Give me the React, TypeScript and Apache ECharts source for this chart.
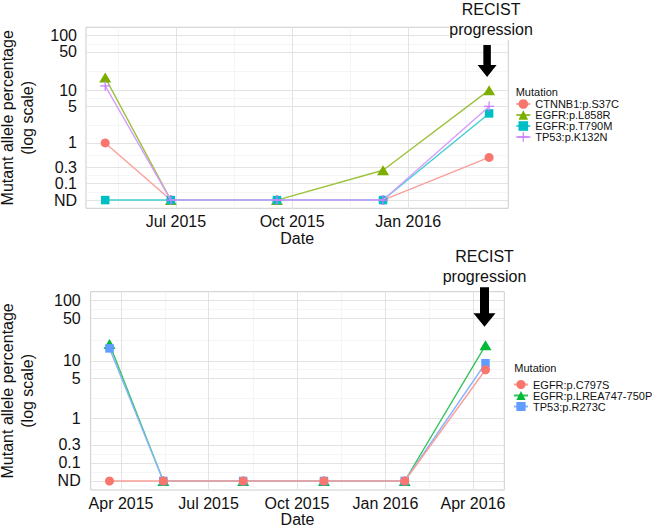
import { useEffect, useRef } from "react";
import * as echarts from "echarts";

const FONT = "'Liberation Sans', Arial, Helvetica, sans-serif";
const INK = "#111111";

// y axis: log10(value + 0.1), ND = not detected (0)
const yBreaks = [100, 50, 10, 5, 1, 0.3, 0.1, 0];
const yBreakLabels = ["100", "50", "10", "5", "1", "0.3", "0.1", "ND"];
const quarterStarts = [
  "2015-01-01", "2015-04-01", "2015-07-01", "2015-10-01",
  "2016-01-01", "2016-04-01", "2016-07-01",
];
const monthNames = ["Jan", "Feb", "Mar", "Apr", "May", "Jun", "Jul", "Aug", "Sep", "Oct", "Nov", "Dec"];

// top panel
const topDates = ["2015-05-06", "2015-06-27", "2015-09-19", "2015-12-12", "2016-03-05"];
const topMutations = ["CTNNB1:p.S37C", "EGFR:p.L858R", "EGFR:p.T790M", "TP53:p.K132N"];
const ctnnb1S37C = [1, 0, 0, 0, 0.5];
const egfrL858R = [17, 0, 0, 0.25, 10];
const egfrT790M = [0, 0, 0, 0, 3.7];
const tp53K132N = [12, 0, 0, 0, 5];

// bottom panel
const bottomDates = ["2015-03-20", "2015-05-15", "2015-08-06", "2015-10-29", "2016-01-21", "2016-04-14"];
const bottomMutations = ["EGFR:p.C797S", "EGFR:p.LREA747-750P", "TP53:p.R273C"];
const egfrC797S = [0, 0, 0, 0, 0, 7];
const egfrLREA747 = [19, 0, 0, 0, 0, 18];
const tp53R273C = [16, 0, 0, 0, 0, 9];

const PLUS = "path://M0,4.4H10V5.6H0ZM4.4,0H5.6V10H4.4Z";

const tr = (v: number) => Math.log10(v + 0.1);
const ts = (d: string) => Date.parse(d);

function dateRange(dates: string[]) {
  const t = dates.map(ts);
  const lo = Math.min(...t);
  const hi = Math.max(...t);
  const pad = (hi - lo) * 0.05;
  return [lo - pad, hi + pad];
}

function gridLines(gi: number, xr: number[]) {
  const major = "#E3E3E3";
  const minor = "#F3F3F3";
  const yMaj = yBreaks.map(tr);
  const yMin: number[] = [];
  for (let i = 0; i < yMaj.length - 1; i++) yMin.push((yMaj[i] + yMaj[i + 1]) / 2);
  const q = quarterStarts.map(ts);
  const xMin: number[] = [];
  for (let i = 0; i < q.length - 1; i++) xMin.push((q[i] + q[i + 1]) / 2);
  const inX = (v: number) => v > xr[0] && v < xr[1];
  const data: any[] = [
    ...yMin.map((v) => ({ yAxis: v, lineStyle: { color: minor, width: 0.8, type: "solid" } })),
    ...xMin.filter(inX).map((v) => ({ xAxis: v, lineStyle: { color: minor, width: 0.8, type: "solid" } })),
    ...yMaj.map((v) => ({ yAxis: v, lineStyle: { color: major, width: 1, type: "solid" } })),
    ...q.filter(inX).map((v) => ({ xAxis: v, lineStyle: { color: major, width: 1, type: "solid" } })),
  ];
  return {
    type: "line",
    name: "grid" + gi,
    xAxisIndex: gi,
    yAxisIndex: gi,
    data: [],
    silent: true,
    z: 1,
    markLine: {
      silent: true,
      z: 1,
      symbol: ["none", "none"],
      label: { show: false },
      animation: false,
      data,
    },
  };
}

function lineSeries(
  gi: number,
  name: string,
  dates: string[],
  values: number[],
  color: string,
  lineColor: string,
  symbol: string,
  size: number | number[],
  z: number,
) {
  return {
    type: "line",
    name,
    xAxisIndex: gi,
    yAxisIndex: gi,
    data: dates.map((d, i) => [ts(d), tr(values[i])]),
    symbol,
    symbolSize: size,
    showAllSymbol: true,
    itemStyle: { color, opacity: 1 },
    lineStyle: { color: lineColor, width: 1.4 },
    emphasis: { disabled: true },
    z,
  };
}

function xAxis(gi: number, xr: number[], gap: number) {
  return {
    gridIndex: gi,
    type: "value",
    min: xr[0],
    max: xr[1],
    axisLine: { show: false },
    axisTick: { show: false },
    splitLine: { show: false },
    axisLabel: {
      customValues: quarterStarts.map(ts),
      formatter: (v: number) => {
        const d = new Date(v);
        return monthNames[d.getUTCMonth()] + " " + d.getUTCFullYear();
      },
      hideOverlap: false,
      fontSize: 16,
      fontFamily: FONT,
      color: INK,
      margin: 5,
    },
    name: "Date",
    nameLocation: "middle",
    nameGap: gap,
    nameTextStyle: { fontSize: 16, fontFamily: FONT, color: INK, lineHeight: 16 },
  };
}

function yAxis(gi: number, gap: number, margin: number) {
  return {
    gridIndex: gi,
    type: "value",
    min: -1.15,
    max: 2.15,
    axisLine: { show: false },
    axisTick: { show: false },
    splitLine: { show: false },
    axisLabel: {
      customValues: yBreaks.map(tr),
      formatter: (v: number) => {
        const i = yBreaks.findIndex((b) => Math.abs(tr(b) - v) < 1e-6);
        return i >= 0 ? yBreakLabels[i] : "";
      },
      hideOverlap: false,
      fontSize: 16,
      fontFamily: FONT,
      color: INK,
      margin,
    },
    name: "Mutant allele percentage\n(log scale)",
    nameLocation: "middle",
    nameRotate: 90,
    nameGap: gap,
    nameTextStyle: { fontSize: 16, fontFamily: FONT, color: INK, lineHeight: 20 },
  };
}

export default function App() {
  const ref = useRef<HTMLDivElement>(null);

  useEffect(() => {
    if (!ref.current) return;
    const chart = echarts.init(ref.current, undefined, { renderer: "svg" });
    const xrTop = dateRange(topDates);
    const xrBot = dateRange(bottomDates);

    const gridBase = {
      show: true,
      borderColor: "#CCCCCC",
      borderWidth: 1,
      backgroundColor: "transparent",
      containLabel: false,
      outerBoundsMode: "none",
    };

    const option: any = {
      animation: false,
      backgroundColor: "#fff",
      textStyle: { fontFamily: FONT },
      grid: [
        { ...gridBase, left: 86, top: 27.3, width: 422.3, height: 181 },
        { ...gridBase, left: 90.7, top: 291.7, width: 413.6, height: 198.3 },
      ],
      xAxis: [xAxis(0, xrTop, 22), xAxis(1, xrBot, 21)],
      yAxis: [yAxis(0, 49, 9), yAxis(1, 53, 10)],
      legend: [
        {
          data: topMutations,
          orient: "vertical",
          left: 515.3,
          top: 98.5,
          padding: 0,
          itemGap: 0,
          itemWidth: 14,
          itemHeight: 12,
          textStyle: { fontSize: 11, fontFamily: FONT, color: INK, lineHeight: 11 },
        },
        {
          data: bottomMutations,
          orient: "vertical",
          left: 513,
          top: 379,
          padding: 0,
          itemGap: 0,
          itemWidth: 14,
          itemHeight: 11.5,
          textStyle: { fontSize: 11, fontFamily: FONT, color: INK, lineHeight: 11 },
        },
      ],
      series: [
        gridLines(0, xrTop),
        gridLines(1, xrBot),
        lineSeries(0, topMutations[0], topDates, ctnnb1S37C, "#F8766D", "#FA9F99", "circle", 9, 3),
        lineSeries(0, topMutations[1], topDates, egfrL858R, "#7CAE00", "#9CC23C", "triangle", [12, 10], 4),
        lineSeries(0, topMutations[2], topDates, egfrT790M, "#00BFC4", "#40CFD3", "rect", 8.5, 5),
        lineSeries(0, topMutations[3], topDates, tp53K132N, "#C77CFF", "#D59DFF", PLUS, 10, 6),
        lineSeries(1, bottomMutations[1], bottomDates, egfrLREA747, "#00BA38", "#33C35C", "triangle", [12, 10], 3),
        lineSeries(1, bottomMutations[2], bottomDates, tp53R273C, "#619CFF", "#89B5FF", "rect", 8.5, 4),
        lineSeries(1, bottomMutations[0], bottomDates, egfrC797S, "#F8766D", "#FA9F99", "circle", 9, 5),
      ],
    };
    chart.setOption(option);

    const xTop = chart.convertToPixel({ xAxisIndex: 0 }, ts(topDates[topDates.length - 1])) as number;
    const xBot = chart.convertToPixel({ xAxisIndex: 1 }, ts(bottomDates[bottomDates.length - 1])) as number;

    const arrow = (cx: number, top: number, head: number, tip: number, sw: number, hw: number) => ({
      type: "polygon",
      z: 100,
      silent: true,
      shape: {
        points: [
          [cx - sw / 2, top], [cx + sw / 2, top], [cx + sw / 2, head], [cx + hw / 2, head],
          [cx, tip], [cx - hw / 2, head], [cx - sw / 2, head],
        ],
      },
      style: { fill: "#000" },
    });
    const label = (cx: number, y: number, lh: number) => ({
      type: "text",
      z: 99,
      silent: true,
      style: {
        text: "RECIST\nprogression",
        x: cx,
        y,
        align: "center",
        verticalAlign: "top",
        fontSize: 16,
        fontFamily: FONT,
        lineHeight: lh,
        fill: INK,
        backgroundColor: "#fff",
      },
    });
    const legendTitle = (x: number, y: number) => ({
      type: "text",
      z: 100,
      silent: true,
      style: { text: "Mutation", x, y, verticalAlign: "middle", fontSize: 11, fontFamily: FONT, fill: INK },
    });

    chart.setOption({
      graphic: [
        label(xTop + 2, -1, 20.5),
        arrow(xTop - 2, 45, 65, 77, 7.5, 19),
        label(xBot - 1, 246, 20),
        arrow(xBot - 1, 287.3, 313.3, 326.7, 9, 22),
        legendTitle(515.7, 92.3),
        legendTitle(514.3, 368.3),
      ],
    });

    return () => chart.dispose();
  }, []);

  return <div ref={ref} style={{ position: "fixed", left: 0, top: 0, width: 652, height: 527 }} />;
}
